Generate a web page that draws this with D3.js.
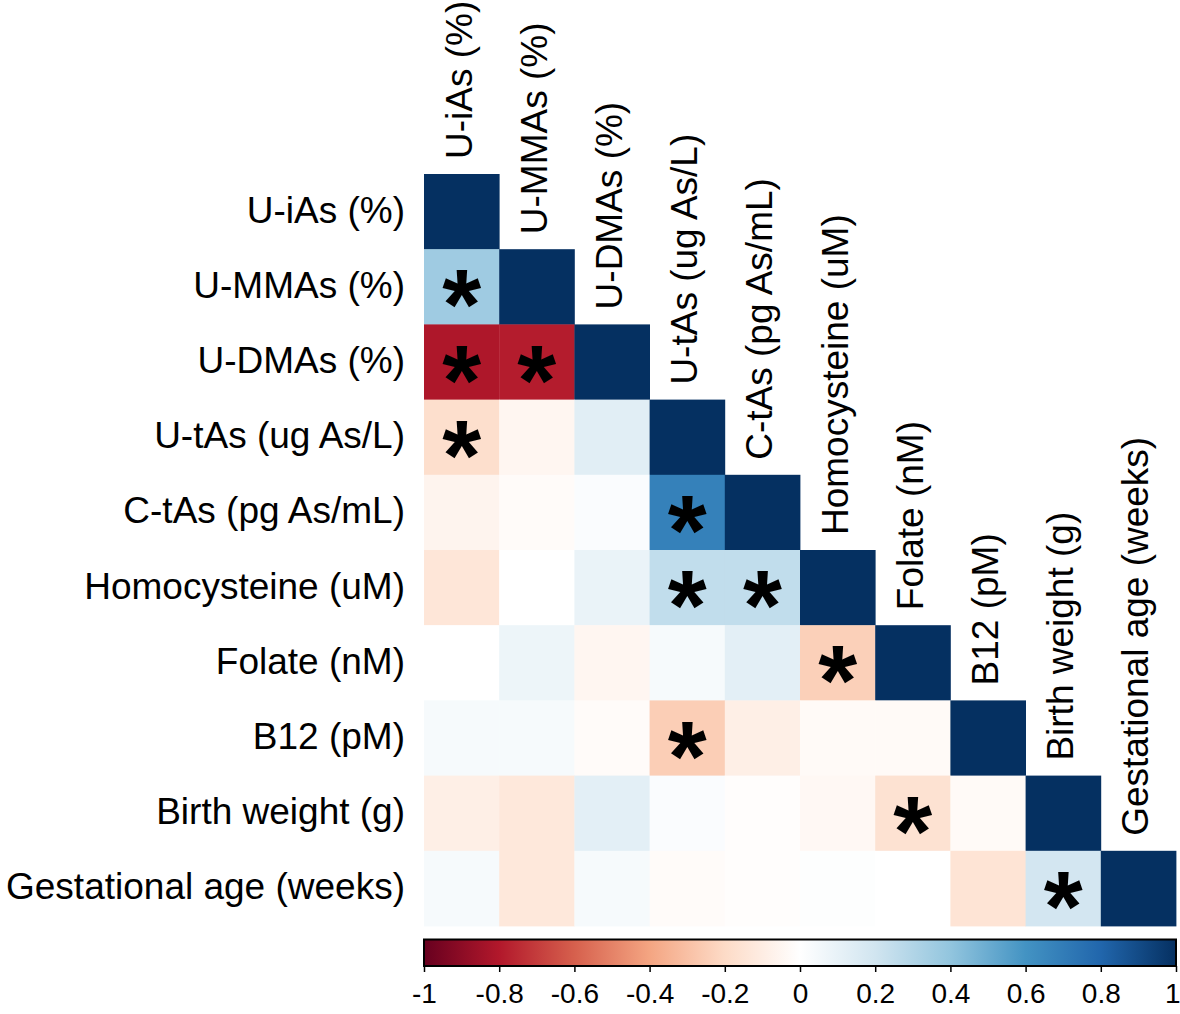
<!DOCTYPE html>
<html>
<head>
<meta charset="utf-8">
<script src="https://cdn.jsdelivr.net/npm/d3@7"></script>
<style>
  body { margin: 0; background: #fff; }
  text { font-family: "Liberation Sans", Arial, sans-serif; fill: #000; }
</style>
</head>
<body>
<div id="chart"></div>
<script>
// variable names, same order for rows and columns
const variables = [
  "U-iAs (%)",
  "U-MMAs (%)",
  "U-DMAs (%)",
  "U-tAs (ug As/L)",
  "C-tAs (pg As/mL)",
  "Homocysteine (uM)",
  "Folate (nM)",
  "B12 (pM)",
  "Birth weight (g)",
  "Gestational age (weeks)"
];

// lower triangle of the correlation matrix, row by row (diagonal included)
const corrRows = [
  [1],
  [0.36, 1],
  [-0.81, -0.79, 1],
  [-0.18, -0.05, 0.13, 1],
  [-0.06, -0.02, 0.02, 0.68, 1],
  [-0.14, 0, 0.09, 0.25, 0.25, 1],
  [0, 0.08, -0.05, 0.04, 0.12, -0.24, 1],
  [0.04, 0.04, -0.02, -0.25, -0.09, -0.03, -0.03, 1],
  [-0.09, -0.13, 0.12, 0.02, -0.01, -0.04, -0.16, -0.03, 1],
  [0.04, -0.13, 0.04, -0.02, -0.01, 0.01, 0, -0.15, 0.19, 1]
];

// significant pairs [row, col]
const sigPairs = [
  [1, 0], [2, 0], [2, 1], [3, 0], [4, 3], [5, 3], [5, 4],
  [6, 5], [7, 3], [8, 6], [9, 8]
];

const legendTicks = [-1, -0.8, -0.6, -0.4, -0.2, 0, 0.2, 0.4, 0.6, 0.8, 1];

// RdBu palette, -1 .. 1
const palette = ["#67001F", "#B2182B", "#D6604D", "#F4A582", "#FDDBC7", "#FFFFFF",
  "#D1E5F0", "#92C5DE", "#4393C3", "#2166AC", "#053061"];

const width = 1180, height = 1014;
const gridLeft = 424, gridTop = 174, gridSize = 752;

const svg = d3.select("#chart")
  .append("svg")
  .attr("width", width)
  .attr("height", height);

const x = d3.scaleBand().domain(variables).range([gridLeft, gridLeft + gridSize]);
const y = d3.scaleBand().domain(variables).range([gridTop, gridTop + gridSize]);
const color = d3.scaleLinear().domain(legendTicks).range(palette).interpolate(d3.interpolateRgb);

const cells = [];
corrRows.forEach((row, i) => {
  row.forEach((v, j) => cells.push({ i, j, v }));
});

svg.append("g")
  .selectAll("rect")
  .data(cells)
  .join("rect")
  .attr("x", d => x(variables[d.j]))
  .attr("y", d => y(variables[d.i]))
  .attr("width", x.bandwidth() + 0.4)
  .attr("height", y.bandwidth() + 0.4)
  .attr("fill", d => color(d.v));

// significance stars (the glyph sits high in the em box, so push the baseline down)
const starSize = 100;
svg.append("g")
  .selectAll("text")
  .data(sigPairs)
  .join("text")
  .attr("x", d => x(variables[d[1]]) + x.bandwidth() / 2)
  .attr("y", d => y(variables[d[0]]) + y.bandwidth() / 2 + starSize * 0.525)
  .attr("text-anchor", "middle")
  .style("font-size", starSize + "px")
  .style("font-weight", "bold")
  .text("*");

// row labels
svg.append("g")
  .selectAll("text")
  .data(variables)
  .join("text")
  .attr("x", gridLeft - 19)
  .attr("y", d => y(d) + y.bandwidth() / 2 + 11)
  .attr("text-anchor", "end")
  .style("font-size", "37px")
  .text(d => d);

// column labels, sitting on top of the diagonal cell
svg.append("g")
  .selectAll("text")
  .data(variables)
  .join("text")
  .attr("transform", d =>
    `translate(${x(d) + x.bandwidth() / 2 + 10}, ${y(d) - 15}) rotate(-90)`)
  .attr("text-anchor", "start")
  .style("font-size", "37px")
  .text(d => d);

// colour legend
const barTop = 939.5, barHeight = 26.5;
const lx = d3.scaleLinear().domain([-1, 1]).range([gridLeft, gridLeft + gridSize]);

const grad = svg.append("defs")
  .append("linearGradient")
  .attr("id", "corrGrad")
  .attr("x1", "0%").attr("x2", "100%")
  .attr("y1", "0%").attr("y2", "0%");

grad.selectAll("stop")
  .data(legendTicks)
  .join("stop")
  .attr("offset", d => ((d + 1) / 2) * 100 + "%")
  .attr("stop-color", d => color(d));

svg.append("rect")
  .attr("x", lx(-1))
  .attr("y", barTop)
  .attr("width", lx(1) - lx(-1))
  .attr("height", barHeight)
  .attr("fill", "url(#corrGrad)")
  .attr("stroke", "#000")
  .attr("stroke-width", 2);

const legendAxis = svg.append("g")
  .attr("transform", `translate(0, ${barTop + barHeight})`)
  .call(d3.axisBottom(lx)
    .tickValues(legendTicks)
    .tickSize(6)
    .tickPadding(11)
    .tickFormat(d => String(d)));

legendAxis.select(".domain").remove();
legendAxis.selectAll(".tick line").attr("stroke", "#000").attr("stroke-width", 1.5);
legendAxis.selectAll(".tick text")
  .attr("fill", "#000")
  .style("font-family", "'Liberation Sans', Arial, sans-serif")
  .style("font-size", "28px");

// keep the last label inside the page
legendAxis.selectAll(".tick text")
  .filter(d => d === 1)
  .attr("text-anchor", "end")
  .attr("x", 4);
</script>
</body>
</html>
